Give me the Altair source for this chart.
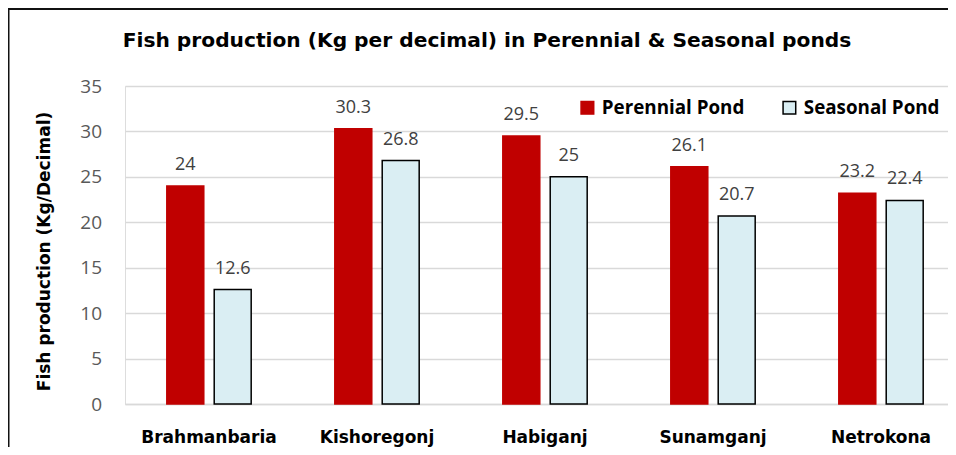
import altair as alt
import pandas as pd

districts = ["Brahmanbaria", "Kishoregonj", "Habiganj", "Sunamganj", "Netrokona"]
series = ["Perennial Pond", "Seasonal Pond"]
perennial = [24, 30.3, 29.5, 26.1, 23.2]
seasonal = [12.6, 26.8, 25, 20.7, 22.4]
y_ticks = [0, 5, 10, 15, 20, 25, 30, 35]

rows = []
for d, p, s in zip(districts, perennial, seasonal):
    rows.append({"district": d, "pond": series[0], "value": p})
    rows.append({"district": d, "pond": series[1], "value": s})
df = pd.DataFrame(rows)

W, H = 823, 318

legend = alt.Legend(
    title=None, orient="none", direction="horizontal", legendX=453, legendY=12,
    symbolType="square", symbolSize=160, symbolStrokeWidth=1.5,
    labelFont="Open Sans", labelFontWeight="bold", labelFontSize=18.8, labelColor="#000000",
    labelOffset=5, columnPadding=35, padding=0,
)

x = alt.X("district:N", sort=districts, title=None,
          scale=alt.Scale(range=[0, 840], paddingInner=0, paddingOuter=0),
          axis=alt.Axis(labelAngle=0, labelFont="DejaVu Sans", labelFontWeight="bold",
                        labelFontSize=17, labelColor="#000000", labelPadding=38.5,
                        labelBaseline="alphabetic",
                        ticks=False, domainColor="#D9D9D9", domainWidth=1.5, grid=False))
xoff = alt.XOffset("pond:N", sort=series,
                   scale=alt.Scale(paddingInner=0.22, paddingOuter=0.882))
y = alt.Y("value:Q", title="Fish production (Kg/Decimal)",
          scale=alt.Scale(domain=[0, 35], nice=False),
          axis=alt.Axis(values=y_ticks, labelFont="Open Sans", labelFontSize=19,
                        labelColor="#595959", labelPadding=23.5, domain=False, ticks=False,
                        gridColor="#D9D9D9", gridWidth=1.3,
                        titleFont="DejaVu Sans", titleFontWeight="bold", titleFontSize=17,
                        titleColor="#000000", titleX=-72, titleY=165, titleBaseline="bottom"))

bars = alt.Chart(df).mark_bar(strokeWidth=1.5).encode(
    x=x, xOffset=xoff, y=y,
    fill=alt.Fill("pond:N", sort=series,
                  scale=alt.Scale(domain=series, range=["#C00000", "#DAEEF3"]), legend=legend),
    stroke=alt.Stroke("pond:N", sort=series,
                      scale=alt.Scale(domain=series, range=["#C00000", "#000000"]), legend=legend),
)

labels = alt.Chart(df).mark_text(
    font="Open Sans", fontSize=18, color="#404040", baseline="alphabetic", dy=-16
).encode(x=x, xOffset=xoff, y=y, text=alt.Text("value:Q"))

border_df = pd.DataFrame({"k": [0]})
left_border = alt.Chart(border_df).mark_rule(color="#111111", strokeWidth=2).encode(
    x=alt.value(-116.5), y=alt.value(-77), y2=alt.value(370))
top_border = alt.Chart(border_df).mark_rule(color="#111111", strokeWidth=2).encode(
    x=alt.value(-117), x2=alt.value(835), y=alt.value(-77))

chart = alt.layer(bars, labels, left_border, top_border).properties(
    width=W, height=H,
    padding={"left": 117, "top": 78, "right": 0, "bottom": 43},
    autosize=alt.AutoSizeParams(type="none"),
    title=alt.TitleParams(
        "Fish production (Kg per decimal) in Perennial & Seasonal ponds",
        font="DejaVu Sans", fontWeight="bold", fontSize=20.2, color="#000000",
        anchor="middle", frame="group", dx=-49.5, baseline="alphabetic", offset=0, dy=59,
    ),
).configure_view(stroke=None).configure(background="white")

chart.save("out.html", embed_options={"renderer": "svg", "actions": False})
